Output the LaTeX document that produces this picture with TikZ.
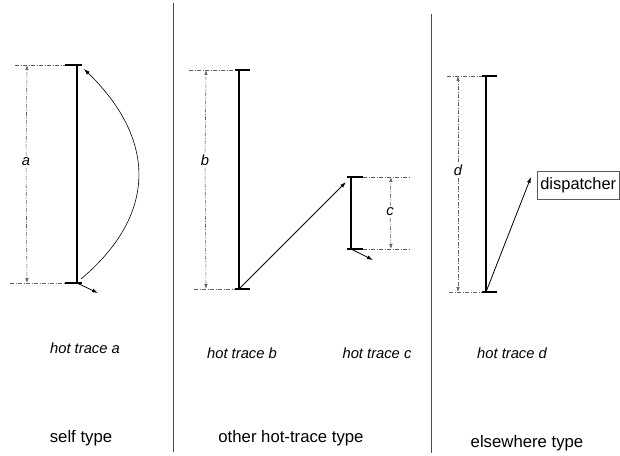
\documentclass[tikz,border=0pt]{standalone}
\usepackage{fontspec}
\setmainfont{Liberation Sans}
\usetikzlibrary{arrows.meta, calc}

\tikzset{
  bar/.style={line width=2.2bp},
  endtick/.style={line width=1.8bp},
  extline/.style={gray!75!black, line width=0.6bp,
                  dash pattern=on 4bp off 1.5bp on 1bp off 1.5bp},
  dimline/.style={extline, -{Latex[length=5bp,width=3.5bp]}},
  flow/.style={line width=0.8bp, -{Latex[length=6bp,width=4bp]}},
  tracelab/.style={font=\fontsize{14.8}{17}\selectfont\itshape},
  dimlab/.style={font=\fontsize{14.8}{17}\selectfont\itshape, inner sep=2bp},
  typelab/.style={font=\fontsize{16.8}{20}\selectfont},
  sep/.style={gray!60!black, line width=0.8bp}
}

\begin{document}
\begin{tikzpicture}[x=1bp, y=-1bp]
  \useasboundingbox (0,0) rectangle (620,456);

  % Separators
  \draw[sep] (173,3) -- (173,452);
  \draw[sep] (431,14) -- (431,453);

  % Trace a (self)
  \coordinate (atop) at (77,65);
  \coordinate (abot) at (77,283);
  \draw[bar] (atop) -- (abot);
  \draw[endtick] (65,65) -- (82,65);
  \draw[endtick] (65,283) -- (82,283);
  \draw[extline] (15,65) -- (65,65);
  \draw[extline] (10,283) -- (65,283);
  \node[dimlab] (alab) at (26,162) {a};
  \draw[dimline] (alab) -- (27,65);
  \draw[dimline] (alab) -- (27,283);
  \draw[flow, line width=0.6bp] (81,279) .. controls (157,215) and (157,140) .. (84,69);
  \draw[flow] (abot) -- (98,293);

  % Trace b
  \coordinate (btop) at (239,70);
  \coordinate (bbot) at (239,289);
  \draw[bar] (btop) -- (bbot);
  \draw[endtick] (235,70) -- (250,70);
  \draw[endtick] (235,289) -- (250,289);
  \draw[extline] (189,70) -- (235,70);
  \draw[extline] (194,289) -- (235,289);
  \node[dimlab] (blab) at (205,160) {b};
  \draw[dimline] (blab) -- (206,70);
  \draw[dimline] (blab) -- (206,289);

  % Trace c
  \coordinate (ctop) at (351,177);
  \coordinate (cbot) at (351,249);
  \draw[bar] (ctop) -- (cbot);
  \draw[endtick] (347,177) -- (363,177);
  \draw[endtick] (347,249) -- (363,249);
  \draw[extline] (363,177) -- (410,177);
  \draw[extline] (363,249) -- (410,249);
  \node[dimlab] (clab) at (390,212) {c};
  \draw[dimline] (clab) -- (391,177);
  \draw[dimline] (clab) -- (391,249);
  \draw[flow] (cbot) -- (373,260);

  % b jumps to c
  \draw[flow] (bbot) -- ($(ctop)+(-5,5)$);

  % Trace d
  \coordinate (dtop) at (486,76);
  \coordinate (dbot) at (486,292);
  \draw[bar] (dtop) -- (dbot);
  \draw[endtick] (482,76) -- (497,76);
  \draw[endtick] (482,292) -- (497,292);
  \draw[extline] (447,76) -- (482,76);
  \draw[extline] (449,292) -- (482,292);
  \node[dimlab] (dlab) at (458,170) {d};
  \draw[dimline] (dlab) -- (458,76);
  \draw[dimline] (dlab) -- (458,292);

  % Dispatcher
  \node[draw=gray!70!black, line width=0.7bp, anchor=north west, minimum height=28bp,
        inner xsep=3bp, font=\fontsize{16.5}{19}\selectfont] (disp) at (537,171) {dispatcher};
  \coordinate (dtip) at (531,177);
  \draw[flow] (dbot) -- (dtip);

  % Labels
  \node[tracelab] (ta) at (85,348) {hot trace a};
  \node[tracelab] (tb) at (242,353) {hot trace b};
  \node[tracelab] (tc) at (377,353) {hot trace c};
  \node[tracelab] (td) at (512,353) {hot trace d};
  \node[typelab] (selft) at (81,438) {self type};
  \node[typelab] (othert) at (291,438) {other hot-trace type};
  \node[typelab] (elset) at (527,443) {elsewhere type};
\end{tikzpicture}
\end{document}
